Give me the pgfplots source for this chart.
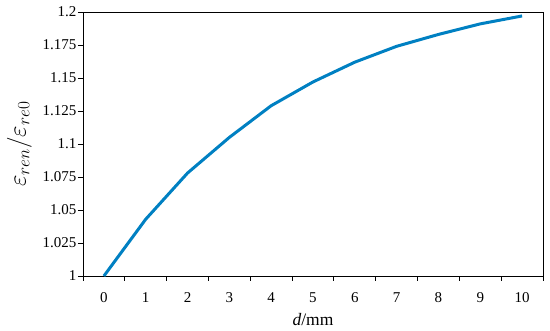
\documentclass[border=0pt]{standalone}
\usepackage{pgfplots}
\pgfplotsset{compat=1.18}
\usepackage{fontspec}
\setmainfont{Liberation Serif}
\definecolor{lineblue}{RGB}{0,128,194}
\begin{document}
\begin{tikzpicture}
\begin{axis}[
scale only axis,
width=460pt,
height=264pt,
xmin=-0.5, xmax=10.5,
ymin=1, ymax=1.2,
xtick={0,1,2,3,4,5,6,7,8,9,10},
major x tick style={draw=none},
minor xtick={-0.5,0.5,1.5,2.5,3.5,4.5,5.5,6.5,7.5,8.5,9.5,10.5},
ytick={1,1.025,1.05,1.075,1.1,1.125,1.15,1.175,1.2},
yticklabels={1,1.025,1.05,1.075,1.1,1.125,1.15,1.175,1.2},
tick align=outside,
major tick length=5pt,
minor tick length=5pt,
xtick pos=bottom,
ytick pos=left,
tick style={black, line width=0.9pt},
axis line style={black, line width=0.9pt},
/pgf/number format/assume math mode=true,
ticklabel style={font=\fontsize{15}{17}\selectfont},
xticklabel style={yshift=-8pt},
yticklabel style={xshift=2pt},
xlabel={\fontsize{17.5}{20}\selectfont\textit{d}/mm},
ylabel={\fontsize{25}{28}\selectfont$\varepsilon_{ren}/\varepsilon_{re0}$},
xlabel style={yshift=-4pt},
ylabel style={yshift=4pt},
clip=false,
]
\addplot[lineblue, line width=3pt] coordinates {
(0,1.000) (1,1.043) (2,1.078) (3,1.105) (4,1.129) (5,1.147)
(6,1.162) (7,1.174) (8,1.183) (9,1.191) (10,1.197)};
\end{axis}
\path (current axis.south west) ++(-83pt,-55pt) rectangle ++(550pt,331pt);
\end{tikzpicture}
\end{document}
